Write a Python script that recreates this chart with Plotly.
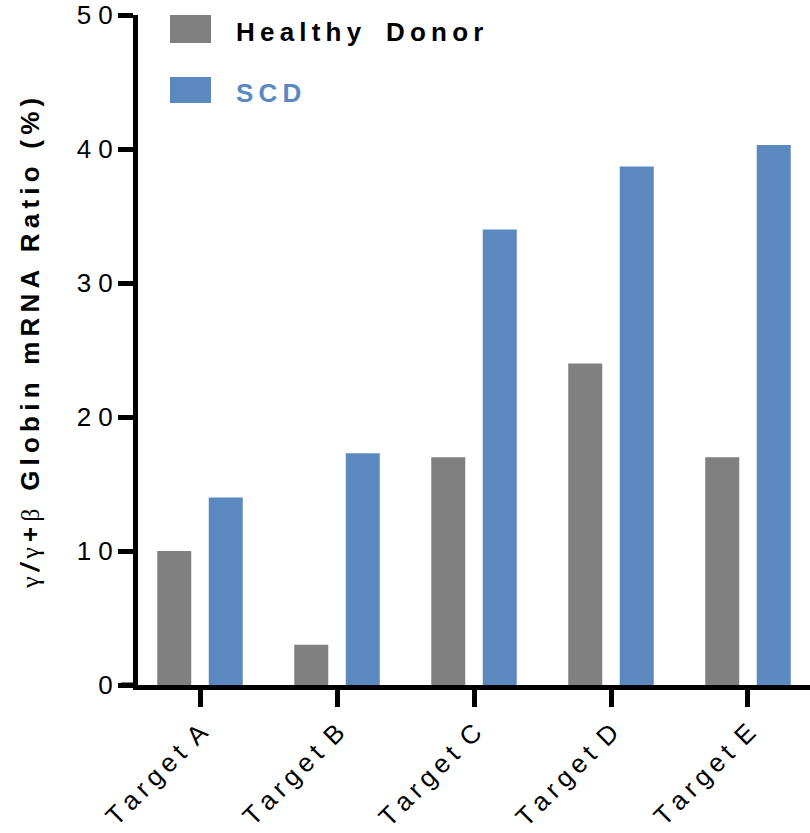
import plotly.graph_objects as go

# Data
targets = ["Target A", "Target B", "Target C", "Target D", "Target E"]
healthy_donor = [10, 3, 17, 24, 17]
scd = [14, 17.3, 34, 38.7, 40.3]
y_ticks = [0, 10, 20, 30, 40, 50]

GRAY = "#808080"
BLUE = "#5B89BF"
FONT = "Liberation Sans, Arial, sans-serif"
NB = "\u00a0"
TH = "\u2009"

W, H = 810, 833
L, R, T, B = 138, 0, 15, 148


def spaced(s, gap=TH, word=TH + NB + TH):
    """Letter-spaced text: a small gap between letters, wider gap between words."""
    return word.join(gap.join(w) for w in s.split(" "))


def px_x(x):
    return (x - L) / (W - L - R)


def px_y(y):
    return (H - B - y) / (H - T - B)


fig = go.Figure()
fig.add_trace(go.Bar(x=targets, y=healthy_donor, name="Healthy Donor",
                     marker=dict(color=GRAY, line=dict(width=0))))
fig.add_trace(go.Bar(x=targets, y=scd, name="SCD",
                     marker=dict(color=BLUE, line=dict(width=0))))

fig.update_layout(
    width=W, height=H,
    margin=dict(l=L, r=R, t=T, b=B, pad=0),
    paper_bgcolor="white", plot_bgcolor="white",
    barmode="group", bargap=0.248, bargroupgap=0.34,
    showlegend=False,
    font=dict(family=FONT, color="black"),
)

fig.update_xaxes(
    range=[-0.4526, 4.4526], automargin=False,
    showgrid=False, zeroline=False,
    showline=True, linecolor="black", linewidth=5,
    ticks="outside", ticklen=17, tickwidth=5, tickcolor="black",
    tickvals=targets, ticktext=[spaced(t, word=TH + NB) for t in targets],
    tickangle=-45, tickfont=dict(size=26, family=FONT, color="black"),
)
fig.update_yaxes(
    range=[0, 50], automargin=False,
    showgrid=False, zeroline=False,
    showline=True, linecolor="black", linewidth=5,
    ticks="outside", ticklen=15, tickwidth=5, tickcolor="black",
    tickvals=y_ticks, ticktext=[NB.join(str(v)) for v in y_ticks],
    tickfont=dict(size=26, family=FONT, color="black"),
)

# x axis line continues a little to the left of the y axis
fig.add_shape(type="line", xref="paper", yref="y",
              x0=px_x(121), x1=0, y0=0, y1=0,
              line=dict(color="black", width=5), layer="above")

# Legend swatches and labels
fig.add_shape(type="rect", xref="paper", yref="paper",
              x0=px_x(170), x1=px_x(211), y0=px_y(43), y1=px_y(15),
              fillcolor=GRAY, line=dict(width=0))
fig.add_shape(type="rect", xref="paper", yref="paper",
              x0=px_x(170), x1=px_x(211), y0=px_y(103), y1=px_y(77),
              fillcolor=BLUE, line=dict(width=0))
fig.add_annotation(xref="paper", yref="paper", x=px_x(234), y=px_y(32),
                   xanchor="left", yanchor="middle", showarrow=False,
                   text="<b>" + spaced("Healthy Donor", word=TH + NB + NB + TH) + "</b>",
                   font=dict(size=26, family=FONT, color="black"))
fig.add_annotation(xref="paper", yref="paper", x=px_x(234), y=px_y(93),
                   xanchor="left", yanchor="middle", showarrow=False,
                   text="<b>" + spaced("SCD") + "</b>",
                   font=dict(size=26, family=FONT, color=BLUE))

# y axis title: Greek letters in a regular serif face, the rest bold
greek = "<span style='font-family:Liberation Serif, DejaVu Serif, serif;font-weight:normal'>{}</span>"
title = (greek.format("γ") + TH + "<b><i>/</i></b>" + TH + greek.format("γ") + TH
         + "<b>+</b>" + TH + greek.format("β") + TH + NB + TH
         + "<b>" + spaced("Globin mRNA Ratio (%)") + "</b>")
fig.add_annotation(xref="paper", yref="paper", x=px_x(30), y=px_y(344),
                   xanchor="center", yanchor="middle", showarrow=False,
                   textangle=-90, text=title,
                   font=dict(size=26, family=FONT, color="black"))

fig.write_html("out.html")
